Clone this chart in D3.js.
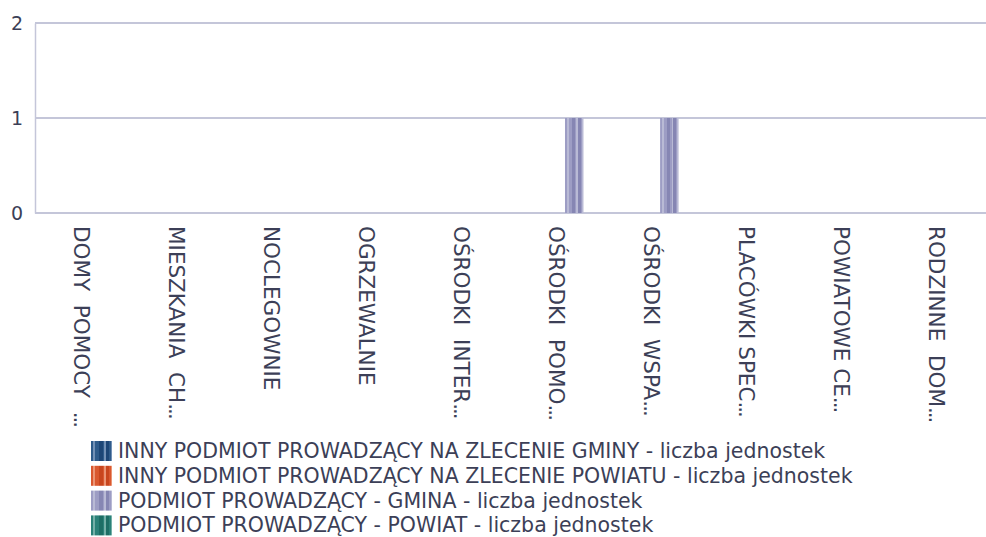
<!DOCTYPE html>
<html>
<head>
<meta charset="utf-8">
<script src="https://cdn.jsdelivr.net/npm/d3@7"></script>
<style>
  html, body { margin: 0; padding: 0; background: #ffffff; }
  svg { display: block; font-family: "DejaVu Sans", "Noto Sans", sans-serif; }
  text { white-space: pre; }
</style>
</head>
<body>
<svg id="chart" width="986" height="537"></svg>
<script>
// Facility types (category axis)
const categories = [
  "DOMY  POMOCY  ...",
  "MIESZKANIA  CH...",
  "NOCLEGOWNIE",
  "OGRZEWALNIE",
  "OŚRODKI  INTER...",
  "OŚRODKI  POMO...",
  "OŚRODKI  WSPA...",
  "PLACÓWKI SPEC...",
  "POWIATOWE CE...",
  "RODZINNE  DOM..."
];

// Series names
const seriesNames = [
  "INNY PODMIOT PROWADZĄCY NA ZLECENIE GMINY - liczba jednostek",
  "INNY PODMIOT PROWADZĄCY NA ZLECENIE POWIATU - liczba jednostek",
  "PODMIOT PROWADZĄCY - GMINA - liczba jednostek",
  "PODMIOT PROWADZĄCY - POWIAT - liczba jednostek"
];

// Number of units per category, one array per series
const innyGminy   = [0, 0, 0, 0, 0, 0, 0, 0, 0, 0];
const innyPowiatu = [0, 0, 0, 0, 0, 0, 0, 0, 0, 0];
const gmina       = [0, 0, 0, 0, 0, 1, 1, 0, 0, 0];
const powiat      = [0, 0, 0, 0, 0, 0, 0, 0, 0, 0];

const yTicks = [0, 1, 2];

const seriesValues = [innyGminy, innyPowiatu, gmina, powiat];

// Striped fills: [mid, light, dark] for each series
const palettes = [
  ["#2f5b8a", "#7391b6", "#1d4676"],
  ["#d9582f", "#eb9575", "#c8461e"],
  ["#9d9dc4", "#b9bad5", "#8686b3"],
  ["#2b8178", "#74b0a8", "#1d6e65"]
];

const svg = d3.select("#chart");
const plot = { left: 35, right: 986, top: 23, bottom: 213 };

// Vertical stripe gradients (hard stops)
const defs = svg.append("defs");
const stripeLayout = [
  [0.00, 0.10, 0], [0.10, 0.20, 1], [0.20, 0.36, 0], [0.36, 0.55, 2],
  [0.55, 0.62, 0], [0.62, 0.70, 1], [0.70, 0.86, 2], [0.86, 0.93, 0],
  [0.93, 1.00, 1]
];
palettes.forEach((p, i) => {
  const g = defs.append("linearGradient")
    .attr("id", "stripe" + i)
    .attr("x1", 0).attr("x2", 1).attr("y1", 0).attr("y2", 0);
  stripeLayout.forEach(([a, b, c]) => {
    g.append("stop").attr("offset", a).attr("stop-color", p[c]);
    g.append("stop").attr("offset", b).attr("stop-color", p[c]);
  });
});

const x0 = d3.scaleBand().domain(categories)
  .range([plot.left, plot.right]).paddingInner(0).paddingOuter(0);
const bw = x0.bandwidth();
const x1 = d3.scaleBand().domain(d3.range(seriesNames.length))
  .range([bw * 0.184, bw * 0.962]);
const y = d3.scaleLinear().domain([0, 2]).range([plot.bottom, plot.top]);

const gridColor = "#c4c6d9";
const textColor = "#3c3f57";
const font = "'DejaVu Sans', sans-serif";

// Horizontal gridlines
svg.append("g").selectAll("line").data(yTicks).join("line")
  .attr("x1", plot.left).attr("x2", plot.right)
  .attr("y1", d => y(d)).attr("y2", d => y(d))
  .attr("stroke", gridColor).attr("stroke-width", 2);

// Value axis
const yAxis = svg.append("g")
  .attr("transform", `translate(${plot.left},0)`)
  .call(d3.axisLeft(y).tickValues(yTicks).tickFormat(d3.format("d")).tickSize(0).tickPadding(12));
yAxis.select(".domain").attr("stroke", gridColor).attr("stroke-width", 1.5);
yAxis.selectAll("text")
  .attr("fill", textColor).style("font-size", "19px")
  .attr("font-family", font);

// Bars
const groups = svg.append("g").selectAll("g").data(seriesValues).join("g")
  .attr("fill", (d, i) => `url(#stripe${i})`);
groups.selectAll("rect")
  .data((vals, si) => vals.map((v, ci) => ({ v, ci, si })))
  .join("rect")
  .filter(d => d.v > 0)
  .attr("x", d => x0(categories[d.ci]) + x1(d.si))
  .attr("width", x1.bandwidth())
  .attr("y", d => y(d.v))
  .attr("height", d => y(0) - y(d.v));

// Category labels, rotated to read top to bottom
const xAxis = svg.append("g")
  .attr("transform", `translate(0,${plot.bottom})`)
  .call(d3.axisBottom(x0).tickSize(0).tickPadding(0));
xAxis.select(".domain").remove();
xAxis.selectAll(".tick text")
  .attr("fill", textColor)
  .style("font-size", "21.5px")
  .attr("font-family", font)
  .attr("text-anchor", "start")
  .attr("dominant-baseline", "central")
  .attr("dy", null)
  .attr("y", 0)
  .attr("transform", "translate(-1,13) rotate(90)")
  .each(function (d) {
    // truncated names: draw the trailing dots a little tighter
    const t = d3.select(this);
    const cut = d.endsWith("...");
    t.text(null);
    t.append("tspan").text(cut ? d.slice(0, -3) : d);
    if (cut) t.append("tspan").attr("letter-spacing", "-2px").text("...");
  });

// Legend
const legend = svg.append("g").attr("transform", "translate(91,441)");
const rows = legend.selectAll("g").data(seriesNames).join("g")
  .attr("transform", (d, i) => `translate(0,${i * 24.8})`);
rows.append("rect")
  .attr("width", 21).attr("height", 20)
  .attr("fill", (d, i) => `url(#stripe${i})`);
rows.append("text")
  .attr("x", 27).attr("y", 17)
  .attr("fill", textColor)
  .style("font-size", "20.5px")
  .attr("font-family", font)
  .text(d => d);
</script>
</body>
</html>
